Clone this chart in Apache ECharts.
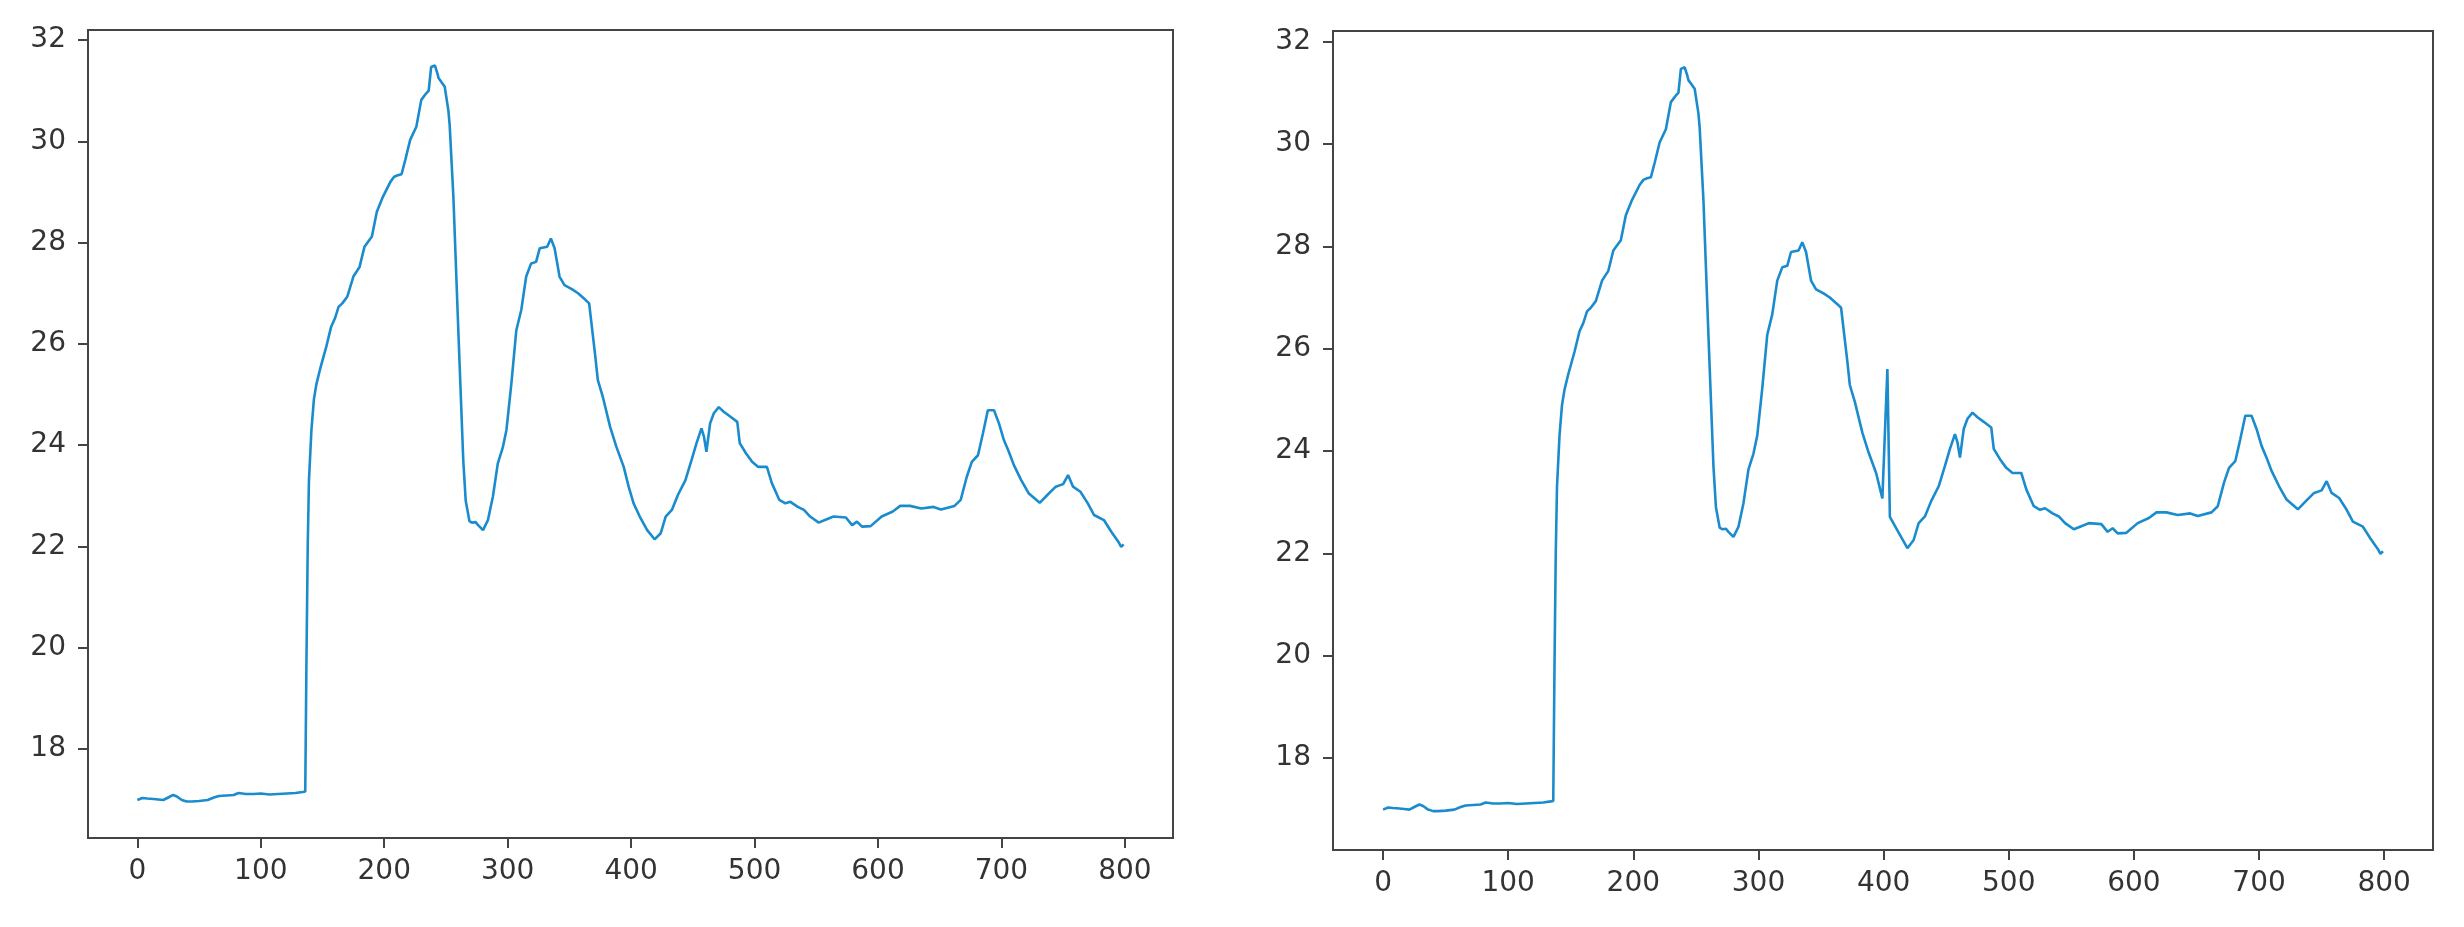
<!DOCTYPE html>
<html>
<head>
<meta charset="utf-8">
<script src="https://cdn.jsdelivr.net/npm/echarts@6/dist/echarts.min.js"></script>
<style>
html,body{margin:0;padding:0;background:#fff;}
#chart{width:2464px;height:927px;}
</style>
</head>
<body>
<div id="chart"></div>
<script>
// ---- data ----
const xTicks = [0, 100, 200, 300, 400, 500, 600, 700, 800];
const yTicks = [18, 20, 22, 24, 26, 28, 30, 32];

const xLeft = [0,4,8,13,17,21,25,29,32,36,40,44,50,57,62,66,72,78,82,88,94,100,107,114,121,128,134,136,
  137,138,139,141,143,145,148,153,157,160,163,166,170,175,180,184,190,194,199,205,208,211,214,217,221,226,230,234,236,238,241,243,244,247,249,252,253,256,260,264,266,269,271,274,276,280,284,288,292,296,299,303,307,311,315,319,323,326,332,335,338,342,346,352,357,363,366,371,373,377,383,388,394,398,402,407,413,419,424,428,433,438,444,449,453,457,459,461,464,467,471,475,480,486,488,493,498,503,510,514,520,525,529,535,540,545,552,557,564,574,579,583,587,594,603,612,618,626,635,645,651,662,667,672,676,681,685,689,694,698,702,706,710,716,722,731,737,744,750,754,758,764,770,775,783,789,795,797,799];
const yLeft = [16.99,17.03,17.02,17.01,17.00,16.99,17.04,17.09,17.06,16.99,16.96,16.96,16.97,16.99,17.04,17.07,17.08,17.09,17.13,17.11,17.11,17.12,17.10,17.11,17.12,17.13,17.15,17.16,
  19.8,22.0,23.3,24.3,24.9,25.2,25.5,25.94,26.34,26.5,26.73,26.8,26.93,27.33,27.52,27.92,28.12,28.61,28.91,29.2,29.3,29.33,29.35,29.63,30.03,30.29,30.82,30.95,31.0,31.47,31.5,31.35,31.25,31.15,31.08,30.6,30.32,28.91,26.27,23.71,22.9,22.5,22.47,22.48,22.42,22.32,22.52,22.98,23.64,23.95,24.3,25.22,26.27,26.67,27.33,27.59,27.62,27.89,27.92,28.08,27.89,27.33,27.16,27.08,27.0,26.87,26.8,25.75,25.29,24.96,24.36,23.97,23.57,23.18,22.85,22.59,22.32,22.14,22.26,22.59,22.72,23.02,23.31,23.71,24.04,24.33,24.17,23.87,24.43,24.63,24.75,24.66,24.57,24.46,24.04,23.84,23.67,23.57,23.57,23.25,22.92,22.85,22.88,22.78,22.72,22.59,22.47,22.52,22.59,22.57,22.42,22.49,22.39,22.4,22.59,22.69,22.8,22.8,22.75,22.78,22.73,22.8,22.92,23.38,23.67,23.8,24.23,24.69,24.69,24.43,24.1,23.87,23.61,23.31,23.05,22.86,23.01,23.18,23.23,23.41,23.18,23.08,22.85,22.62,22.52,22.29,22.08,21.99,22.04];

const xRight = [0,4,8,13,17,21,25,29,32,36,40,44,50,57,62,66,72,78,82,88,94,100,107,114,121,128,134,136,
  137,138,139,141,143,145,148,153,157,160,163,166,170,175,180,184,190,194,199,205,208,211,214,217,221,226,230,234,236,238,241,243,244,247,249,252,253,256,260,264,266,269,271,274,276,280,284,288,292,296,299,303,307,311,315,319,323,326,332,335,338,342,346,352,357,363,366,371,373,377,383,388,394,399,403,405,411,419,424,428,433,438,444,449,453,457,459,461,464,467,471,475,480,486,488,493,498,503,510,514,520,525,529,535,540,545,552,557,564,574,579,583,587,594,603,612,618,626,635,645,651,662,667,672,676,681,685,689,694,698,702,706,710,716,722,731,737,744,750,754,758,764,770,775,783,789,795,797,799];
const yRight = [16.99,17.03,17.02,17.01,17.00,16.99,17.04,17.09,17.06,16.99,16.96,16.96,16.97,16.99,17.04,17.07,17.08,17.09,17.13,17.11,17.11,17.12,17.10,17.11,17.12,17.13,17.15,17.16,
  19.8,22.0,23.3,24.3,24.9,25.2,25.5,25.94,26.34,26.5,26.73,26.8,26.93,27.33,27.52,27.92,28.12,28.61,28.91,29.2,29.3,29.33,29.35,29.63,30.03,30.29,30.82,30.95,31.0,31.47,31.5,31.35,31.25,31.15,31.08,30.6,30.32,28.91,26.27,23.71,22.9,22.5,22.47,22.48,22.42,22.32,22.52,22.98,23.64,23.95,24.3,25.22,26.27,26.67,27.33,27.59,27.62,27.89,27.92,28.08,27.89,27.33,27.16,27.08,27.0,26.87,26.8,25.75,25.29,24.96,24.36,23.97,23.57,23.07,25.6,22.71,22.45,22.1,22.26,22.59,22.72,23.02,23.31,23.71,24.04,24.33,24.17,23.87,24.43,24.63,24.75,24.66,24.57,24.46,24.04,23.84,23.67,23.57,23.57,23.25,22.92,22.85,22.88,22.78,22.72,22.59,22.47,22.52,22.59,22.57,22.42,22.49,22.39,22.4,22.59,22.69,22.8,22.8,22.75,22.78,22.73,22.8,22.92,23.38,23.67,23.8,24.23,24.69,24.69,24.43,24.1,23.87,23.61,23.31,23.05,22.86,23.01,23.18,23.23,23.41,23.18,23.08,22.85,22.62,22.52,22.29,22.08,21.99,22.04];

// ---- build ----
const zip = (xs, ys) => xs.map((x, i) => [x, ys[i]]);
const AX = '#444';
const TXT = '#333';
const FONT = 'DejaVu Sans';
const LINE = '#1a8ccd';

function xAxisCfg(gridIndex) {
  return {
    type: 'value', gridIndex: gridIndex, min: -40, max: 839,
    splitLine: { show: false },
    axisLine: { show: true, onZero: false, lineStyle: { color: AX, width: 2 } },
    axisTick: { show: true, length: 10, inside: false, lineStyle: { color: AX, width: 2 }, customValues: xTicks },
    axisLabel: { color: TXT, fontSize: 28, fontFamily: FONT, margin: 20, customValues: xTicks }
  };
}
function yAxisCfg(gridIndex, min, max) {
  return {
    type: 'value', gridIndex: gridIndex, min: min, max: max,
    splitLine: { show: false },
    axisLine: { show: true, onZero: false, lineStyle: { color: AX, width: 2 } },
    axisTick: { show: true, length: 10, inside: false, lineStyle: { color: AX, width: 2 }, customValues: yTicks },
    axisLabel: { color: TXT, fontSize: 28, fontFamily: FONT, margin: 22, customValues: yTicks }
  };
}

const chart = echarts.init(document.getElementById('chart'), null, { renderer: 'canvas' });
chart.setOption({
  animation: false,
  backgroundColor: '#fff',
  grid: [
    { left: 88, top: 30, width: 1085, height: 808, show: true, borderColor: AX, borderWidth: 2, backgroundColor: 'transparent', containLabel: false },
    { left: 1333, top: 31, width: 1100, height: 819, show: true, borderColor: AX, borderWidth: 2, backgroundColor: 'transparent', containLabel: false }
  ],
  xAxis: [xAxisCfg(0), xAxisCfg(1)],
  yAxis: [yAxisCfg(0, 16.24, 32.2), yAxisCfg(1, 16.2, 32.21)],
  series: [
    { type: 'line', xAxisIndex: 0, yAxisIndex: 0, data: zip(xLeft, yLeft), showSymbol: false, symbol: 'none',
      lineStyle: { color: LINE, width: 2.6 }, itemStyle: { color: LINE } },
    { type: 'line', xAxisIndex: 1, yAxisIndex: 1, data: zip(xRight, yRight), showSymbol: false, symbol: 'none',
      lineStyle: { color: LINE, width: 2.6 }, itemStyle: { color: LINE } }
  ]
});
</script>
</body>
</html>
